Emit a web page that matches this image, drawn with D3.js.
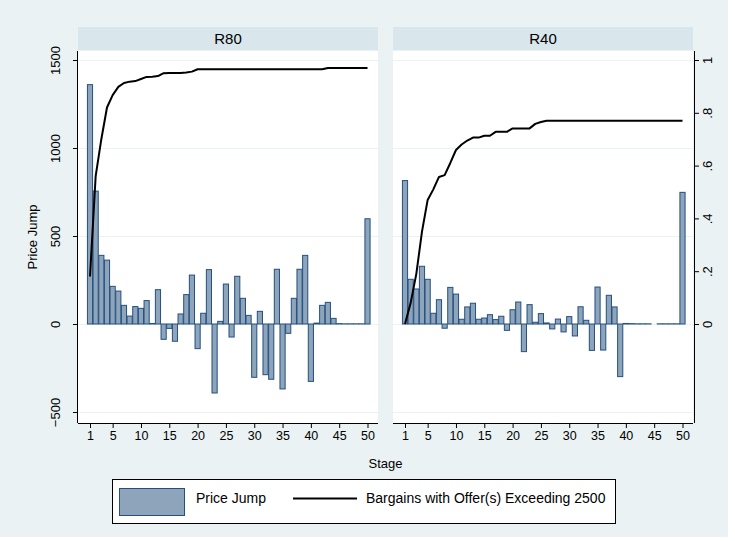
<!DOCTYPE html>
<html>
<head>
<meta charset="utf-8">
<script src="https://cdnjs.cloudflare.com/ajax/libs/d3/7.8.5/d3.min.js"></script>
<style>
body { margin: 0; background: #fff; }
text { font-family: "Liberation Sans", Arial, Helvetica, sans-serif; fill: #000; }
</style>
</head>
<body>
<section></section>
<script>
// stages 1..50
var stages = d3.range(1, 51);

// price jump per stage (bars)
var jumpR80 = [1360, 755, 390, 363, 214, 187, 106, 45, 99, 89, 133, 3, 195, -87, -25, -98, 57, 167, 278, -140,
	61, 309, -392, 15, 227, -74, 271, 146, 49, -303, 72, -288, -314, 311, -369, -53, 146, 311, 390, -326,
	5, 106, 123, 32, 2, 1, 1, 1, 1, 598];
var jumpR40 = [815, 254, 199, 328, 254, 61, 138, -24, 208, 170, 27, 97, 118, 27, 34, 53, 25, 44, -36, 81,
	125, -157, 110, 10, 59, 6, -28, 28, -45, 42, -68, 98, 21, -150, 210, -148, 163, 97, -299, 3,
	2, 1, 1, 1, null, 1, 1, 1, 1, 748];

// share of bargains with offer(s) exceeding 2500 (line, right axis)
var shareR80 = [0.18, 0.56, 0.70, 0.82, 0.867, 0.898, 0.913, 0.918, 0.920, 0.928, 0.936, 0.937, 0.939, 0.950, 0.951,
	0.951, 0.951, 0.953, 0.956, 0.965, 0.965, 0.965, 0.965, 0.965, 0.965, 0.965, 0.965, 0.965, 0.965, 0.965,
	0.965, 0.965, 0.965, 0.965, 0.965, 0.965, 0.965, 0.965, 0.965, 0.965, 0.965, 0.965, 0.970, 0.970, 0.970,
	0.970, 0.970, 0.970, 0.970, 0.970];
var shareR40 = [0, 0.08, 0.19, 0.35, 0.47, 0.51, 0.557, 0.564, 0.61, 0.659, 0.68, 0.695, 0.706, 0.706, 0.713,
	0.713, 0.728, 0.728, 0.728, 0.741, 0.741, 0.741, 0.741, 0.758, 0.765, 0.77, 0.77, 0.77, 0.77, 0.77,
	0.77, 0.77, 0.77, 0.77, 0.77, 0.77, 0.77, 0.77, 0.77, 0.77, 0.77, 0.77, 0.77, 0.77, 0.77,
	0.77, 0.77, 0.77, 0.77, 0.77];

var panelNames = ["R80", "R40"];
var leftTicks = [-500, 0, 500, 1000, 1500];
var rightTicks = [0, 0.2, 0.4, 0.6, 0.8, 1];
var rightTickLabels = ["0", ".2", ".4", ".6", ".8", "1"];
var xTicks = [1, 5, 10, 15, 20, 25, 30, 35, 40, 45, 50];

var width = 735,
	height = 541;

var barFill = "#8da4ba",
	barStroke = "#24507f",
	bgColor = "#eaf2f3",
	stripColor = "#d9e6eb";

var plotTop = 51, plotBottom = 423, panelW = 300;
var panelX = [78, 393];

var svg = d3.select("section")
	.append("svg")
	.attr("width", width)
	.attr("height", height);

svg.append("rect")
	.attr("width", 728).attr("height", 537)
	.attr("fill", bgColor);

//shared scales
var x = d3.scaleLinear().domain([1, 50]).range([12, 289.5]);
var y = d3.scaleLinear().domain([0, 1500]).range([324, 60]);
var y2 = d3.scaleLinear().domain([0, 1]).range([324, 60]);

function drawPanel(i, name, jumps, shares) {
	var g = svg.append("g").attr("transform", "translate(" + panelX[i] + ",0)");

	//header strip
	g.append("rect")
		.attr("x", 0).attr("y", 27)
		.attr("width", panelW).attr("height", 23)
		.attr("fill", stripColor);
	g.append("text")
		.attr("x", panelW / 2).attr("y", 44)
		.attr("text-anchor", "middle")
		.attr("font-size", 15)
		.text(name);

	//plot area
	g.append("rect")
		.attr("x", 0).attr("y", plotTop)
		.attr("width", panelW).attr("height", plotBottom - plotTop)
		.attr("fill", "#fff");

	//gridlines
	g.selectAll(".grid")
		.data(leftTicks)
		.enter().append("line")
		.attr("x1", 0).attr("x2", panelW)
		.attr("y1", function(d) { return Math.round(y(d)) + 0.5; })
		.attr("y2", function(d) { return Math.round(y(d)) + 0.5; })
		.attr("stroke", bgColor)
		.attr("stroke-width", 1.2);

	//bars
	var bw = x(2) - x(1);
	var data = stages.map(function(s, k) { return {s: s, v: jumps[k]}; })
		.filter(function(d) { return d.v !== null; });
	g.selectAll(".bar")
		.data(data)
		.enter().append("rect")
		.attr("x", function(d) { return x(d.s) - bw / 2 + 0.25; })
		.attr("y", function(d) { return y(Math.max(0, d.v)); })
		.attr("width", bw - 0.5)
		.attr("height", function(d) { return Math.abs(y(d.v) - y(0)); })
		.attr("fill", barFill)
		.attr("stroke", barStroke)
		.attr("stroke-width", 1);

	//line
	var line = d3.line()
		.x(function(d, k) { return x(stages[k]); })
		.y(function(d) { return y2(d); });
	g.append("path")
		.datum(shares)
		.attr("d", line)
		.attr("fill", "none")
		.attr("stroke", "#000")
		.attr("stroke-width", 2)
		.attr("stroke-linejoin", "round");

	//x axis
	var xa = g.append("g")
		.attr("transform", "translate(0," + plotBottom + ")")
		.call(d3.axisBottom(x).tickValues(xTicks).tickSize(5).tickPadding(3).tickSizeOuter(0));
	xa.select(".domain").attr("d", "M0,0.5H" + panelW).attr("stroke", "#000");
	xa.selectAll("text").attr("font-size", 12.5).attr("font-family", null);

	return g;
}

drawPanel(0, panelNames[0], jumpR80, shareR80);
drawPanel(1, panelNames[1], jumpR40, shareR40);

//left axis
var ya = svg.append("g")
	.attr("transform", "translate(" + panelX[0] + ",0)")
	.call(d3.axisLeft(y).tickValues(leftTicks).tickSize(5).tickFormat(d3.format("d")));
ya.select(".domain").attr("d", "M-0.5," + plotTop + "V" + plotBottom).attr("stroke", "#000");
ya.selectAll("text")
	.attr("font-size", 13).attr("font-family", null)
	.attr("transform", "rotate(-90)")
	.attr("x", 0).attr("y", -18)
	.attr("dy", 0)
	.attr("text-anchor", "middle")
	.text(function(d) { return d < 0 ? "\u2212" + Math.abs(d) : d; });

//right axis
var ra = svg.append("g")
	.attr("transform", "translate(" + (panelX[1] + panelW + 1) + ",0)")
	.call(d3.axisRight(y2).tickValues(rightTicks).tickSize(5)
		.tickFormat(function(d, k) { return rightTickLabels[k]; }));
ra.select(".domain").attr("d", "M0.5," + plotTop + "V" + plotBottom).attr("stroke", "#000");
ra.selectAll("text")
	.attr("font-size", 13).attr("font-family", null)
	.attr("transform", "rotate(-90)")
	.attr("x", 0).attr("y", 9)
	.attr("dy", "0.71em")
	.attr("text-anchor", "middle");

//axis titles
svg.append("text")
	.attr("transform", "translate(37," + ((plotTop + plotBottom) / 2) + ") rotate(-90)")
	.attr("text-anchor", "middle")
	.attr("font-size", 13)
	.text("Price Jump");

svg.append("text")
	.attr("x", (panelX[0] + panelX[1] + panelW) / 2).attr("y", 468)
	.attr("text-anchor", "middle")
	.attr("font-size", 13)
	.text("Stage");

//legend
var lg = svg.append("g");
lg.append("rect")
	.attr("x", 112.5).attr("y", 479.5).attr("width", 503).attr("height", 44)
	.attr("fill", "#fff").attr("stroke", "#000").attr("stroke-width", 1);
lg.append("rect")
	.attr("x", 119.5).attr("y", 488.5).attr("width", 65).attr("height", 27)
	.attr("fill", barFill).attr("stroke", barStroke).attr("stroke-width", 1);
lg.append("text")
	.attr("x", 196).attr("y", 503)
	.attr("font-size", 14)
	.text("Price Jump");
lg.append("line")
	.attr("x1", 293).attr("x2", 357).attr("y1", 498.5).attr("y2", 498.5)
	.attr("stroke", "#000").attr("stroke-width", 2);
lg.append("text")
	.attr("x", 366).attr("y", 503)
	.attr("font-size", 14)
	.text("Bargains with Offer(s) Exceeding 2500");
</script>
</body>
</html>
